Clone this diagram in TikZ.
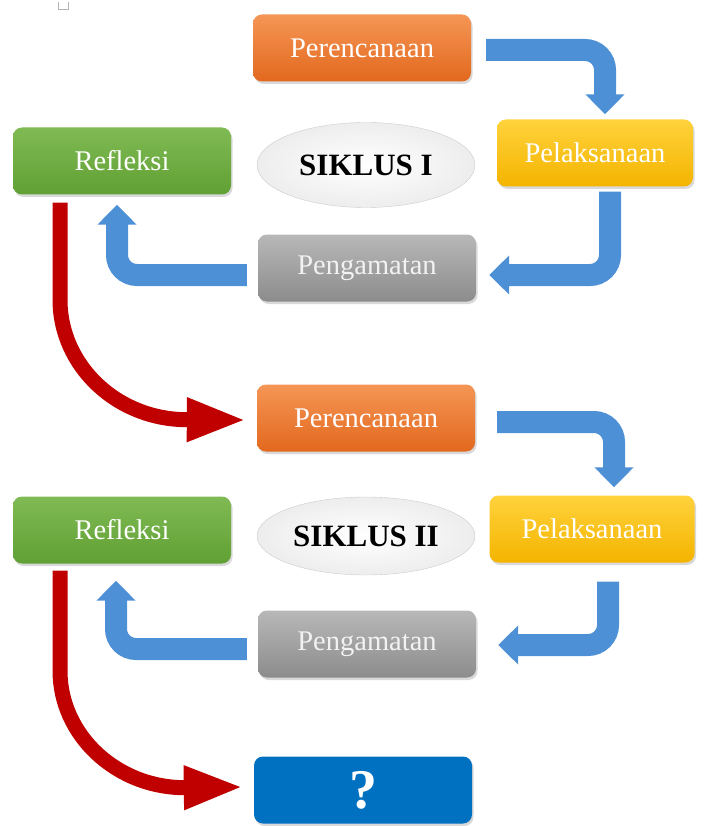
\documentclass[tikz,border=0pt]{standalone}
\usepackage{fontspec}
\setmainfont{Liberation Serif}
\usetikzlibrary{arrows.meta, shapes.geometric, shadows, positioning}

\definecolor{orangetop}{RGB}{245,150,85}
\definecolor{orangebot}{RGB}{226,104,30}
\definecolor{yellowtop}{RGB}{255,210,60}
\definecolor{yellowbot}{RGB}{244,180,0}
\definecolor{greentop}{RGB}{128,186,84}
\definecolor{greenbot}{RGB}{96,160,52}
\definecolor{greytop}{RGB}{184,184,184}
\definecolor{greybot}{RGB}{140,140,140}
\definecolor{endblue}{RGB}{0,112,192}
\definecolor{flowblue}{RGB}{78,144,214}
\definecolor{backred}{RGB}{192,0,0}

\begin{document}
\begin{tikzpicture}[
        x=1pt, y=-1pt,
        box/.style={rounded corners=9pt, minimum width=218pt, minimum height=67pt,
          font=\fontsize{28.5}{31}\selectfont, text=white,
          drop shadow={shadow xshift=1.5pt, shadow yshift=-2.5pt, opacity=0.3}},
        planbox/.style={box, top color=orangetop, bottom color=orangebot},
        actbox/.style={box, top color=yellowtop, bottom color=yellowbot},
        reflbox/.style={box, top color=greentop, bottom color=greenbot},
        obsbox/.style={box, top color=greytop, bottom color=greybot, text=white!95!black},
        endbox/.style={box, fill=endblue, font=\bfseries\fontsize{56}{60}\selectfont},
        cycle/.style={ellipse, minimum width=218pt, minimum height=85pt, draw=gray!40,
          inner color=white, outer color=gray!14, font=\bfseries\fontsize{31}{34}\selectfont},
        flow/.style={draw=flowblue, line width=22pt, rounded corners=20pt,
          -{Triangle[width=38pt, length=20pt]}},
        back/.style={draw=backred, line width=15pt,
          -{Triangle[width=40pt, length=60pt]}}
        ]

        \useasboundingbox (0,0) rectangle (708,826);
        \draw[gray!60, line width=0.8pt] (58,2) -- (58,9) -- (68,9) -- (68,2);

        \node[planbox]                        (pr1) at (362,48)  {Perencanaan};
        \node[actbox, minimum width=196pt]    (pl1) at (595,153) {Pelaksanaan};
        \node[reflbox]                        (rf1) at (122,161) {Refleksi};
        \node[cycle]                          (sk1) at (366,165) {SIKLUS I};
        \node[obsbox]                         (pg1) at (367,268) {Pengamatan};

        \node[planbox]                        (pr2) at (366,418) {Perencanaan};
        \node[actbox, minimum width=205pt]    (pl2) at (592,529) {Pelaksanaan};
        \node[reflbox]                        (rf2) at (122,530) {Refleksi};
        \node[cycle, minimum height=78pt]     (sk2) at (366,536) {SIKLUS II};
        \node[obsbox]                         (pg2) at (367,644) {Pengamatan};
        \node[endbox]                         (end) at (363,790) {?};

        \draw[flow] ([xshift=15pt,yshift=-2pt]pr1.east) -| ([xshift=10pt,yshift=5pt]pl1.north);
        \draw[flow] ([xshift=15pt,yshift=-5pt]pl1.south) |- ([xshift=13pt,yshift=-7pt]pg1.east);
        \draw[flow] ([xshift=-11pt,yshift=-7pt]pg1.west) -| ([xshift=-5pt,yshift=-10pt]rf1.south);
        \draw[back] ([xshift=-62pt,yshift=-8pt]rf1.south) -- ++(0,97)
          .. controls +(0,66) and +(-70,0) .. ++(127,120) -- ([xshift=-10pt,yshift=-2pt]pr2.west);

        \draw[flow] ([xshift=22pt,yshift=-4pt]pr2.east) -| ([xshift=22pt,yshift=8pt]pl2.north);
        \draw[flow] ([xshift=16pt,yshift=-19pt]pl2.south) |- ([xshift=22pt,yshift=-1pt]pg2.east);
        \draw[flow] ([xshift=-11pt,yshift=-5pt]pg2.west) -| ([xshift=-6pt,yshift=-17pt]rf2.south);
        \draw[back] ([xshift=-62pt,yshift=-7pt]rf2.south) -- ++(0,100)
          .. controls +(0,64) and +(-69,0) .. ++(125,117) -- ([xshift=-10pt,yshift=3pt]end.west);
      \end{tikzpicture}
\end{document}
